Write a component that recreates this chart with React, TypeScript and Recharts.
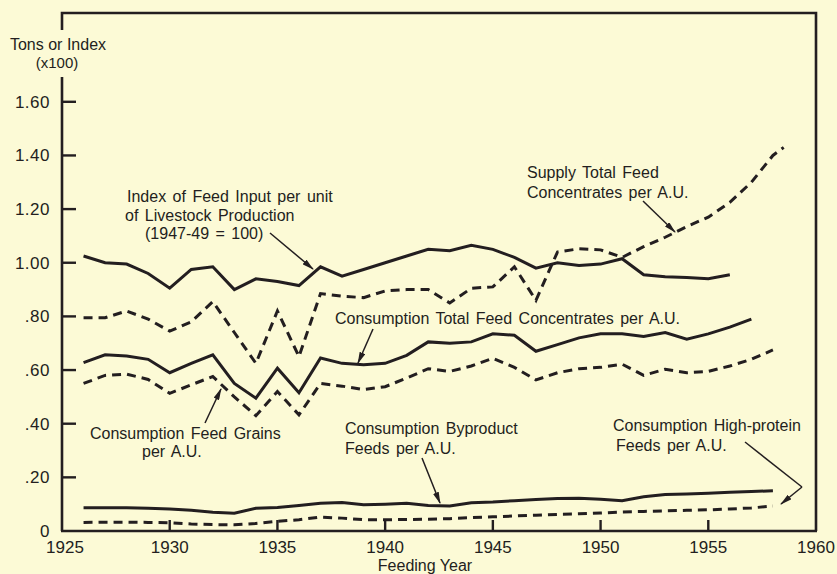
import { LineChart, Line, XAxis, YAxis } from 'recharts';

// feeding years
const years = [
  1926, 1927, 1928, 1929, 1930, 1931, 1932, 1933, 1934, 1935, 1936, 1937, 1938, 1939, 1940, 1941,
  1942, 1943, 1944, 1945, 1946, 1947, 1948, 1949, 1950, 1951, 1952, 1953, 1954, 1955, 1956, 1957, 1958,
];
const supplyYears = [...years.slice(0, 32), 1958, 1958.5];

// index of feed input per unit of livestock production (1947-49 = 100), x100
const feedInputIndex = [
  1.025, 1.0, 0.995, 0.96, 0.905, 0.975, 0.985, 0.9, 0.94, 0.93, 0.915, 0.985, 0.95, 0.975, 1.0, 1.025,
  1.05, 1.045, 1.065, 1.05, 1.02, 0.98, 1.0, 0.99, 0.995, 1.015, 0.955, 0.948, 0.945, 0.94, 0.955,
];
// supply total feed concentrates per A.U.
const supplyConcentrates = [
  0.795, 0.795, 0.82, 0.79, 0.745, 0.78, 0.855, 0.74, 0.625, 0.82, 0.65, 0.885, 0.875, 0.87, 0.895, 0.9,
  0.9, 0.85, 0.905, 0.91, 0.985, 0.86, 1.04, 1.052, 1.048, 1.02, 1.06, 1.095, 1.135, 1.17, 1.225, 1.3,
  1.4, 1.43,
];
// consumption total feed concentrates per A.U.
const consumptionConcentrates = [
  0.628, 0.657, 0.652, 0.64, 0.59, 0.625, 0.657, 0.55, 0.495, 0.607, 0.515, 0.645, 0.625, 0.62, 0.625, 0.655,
  0.705, 0.7, 0.705, 0.735, 0.73, 0.67, 0.695, 0.72, 0.735, 0.735, 0.725, 0.74, 0.715, 0.735, 0.76, 0.79,
];
// consumption feed grains per A.U.
const consumptionGrains = [
  0.55, 0.58, 0.585, 0.565, 0.513, 0.545, 0.576, 0.5, 0.43, 0.52, 0.433, 0.55, 0.54, 0.527, 0.538, 0.57,
  0.605, 0.595, 0.615, 0.644, 0.61, 0.563, 0.59, 0.605, 0.61, 0.622, 0.58, 0.603, 0.59, 0.595, 0.615, 0.64,
  0.675,
];
// consumption byproduct feeds per A.U.
const consumptionByproduct = [
  0.087, 0.087, 0.087, 0.085, 0.082, 0.077, 0.07, 0.066, 0.085, 0.088, 0.095, 0.103, 0.106, 0.098, 0.1, 0.103,
  0.095, 0.093, 0.105, 0.108, 0.113, 0.117, 0.121, 0.122, 0.118, 0.113, 0.128, 0.136, 0.138, 0.141, 0.144,
  0.147, 0.15,
];
// consumption high-protein feeds per A.U.
const consumptionHighProtein = [
  0.032, 0.033, 0.033, 0.032, 0.031, 0.026, 0.024, 0.023, 0.028, 0.036, 0.042, 0.052, 0.048, 0.042, 0.042,
  0.043, 0.044, 0.046, 0.05, 0.053, 0.056, 0.059, 0.062, 0.064, 0.067, 0.071, 0.073, 0.075, 0.077, 0.079,
  0.082, 0.086, 0.093,
];

const xTicks = [1925, 1930, 1935, 1940, 1945, 1950, 1955, 1960];
const yTicks = [0, 0.2, 0.4, 0.6, 0.8, 1.0, 1.2, 1.4, 1.6];
const yLabels = ['0', '.20', '.40', '.60', '.80', '1.00', '1.20', '1.40', '1.60'];

const rows = (xs: number[], vs: number[]) => vs.map((value, i) => ({ year: xs[i], value }));

const W = 837;
const H = 574;
const LEFT = 62;
const RIGHT = 816;
const TOP = 13;
const BOTTOM = 531;

const INK = '#231e20';
const BG = '#fcfad6';
const FONT = '"Liberation Sans", Arial, sans-serif';

const YTick = ({ x, y, payload }: any) => {
  const i = yTicks.indexOf(payload.value);
  return (
    <g>
      {payload.value > 0 && <line x1={x} y1={y} x2={x + 14} y2={y} stroke={INK} strokeWidth={2.4} />}
      <text x={50} y={y + 6} textAnchor="end" fontSize={17} letterSpacing={0.5} fill={INK} fontFamily={FONT}>
        {i >= 0 ? yLabels[i] : payload.value}
      </text>
    </g>
  );
};

const XTick = ({ x, y, payload }: any) => {
  const inner = payload.value > 1925 && payload.value < 1960;
  return (
    <g>
      {inner && <line x1={x} y1={y} x2={x} y2={y - 11} stroke={INK} strokeWidth={2.4} />}
      <text x={x + (payload.value === 1925 ? 3 : 0)} y={y + 22} textAnchor="middle" fontSize={17} fill={INK} fontFamily={FONT}>
        {payload.value}
      </text>
    </g>
  );
};

const Arrow = ({ x1, y1, x2, y2 }: { x1: number; y1: number; x2: number; y2: number }) => (
  <line x1={x1} y1={y1} x2={x2} y2={y2} stroke={INK} strokeWidth={1.5} markerEnd="url(#head)" />
);

const Label = ({ x, y, lines }: { x: number; y: number; lines: string[] }) => (
  <text x={x} y={y} fontSize={16} fill={INK} fontFamily={FONT} wordSpacing={2}>
    {lines.map((t, i) => (
      <tspan key={i} x={x} dy={i === 0 ? 0 : 20}>
        {t}
      </tspan>
    ))}
  </text>
);

const Overlay = () => (
  <svg width={W} height={H} style={{ position: 'absolute', left: 0, top: 0, pointerEvents: 'none' }}>
    <defs>
      <marker id="head" viewBox="0 0 12 6" refX="11" refY="3" markerWidth="12" markerHeight="6" markerUnits="userSpaceOnUse" orient="auto">
        <path d="M0,0 L12,3 L0,6 z" fill={INK} />
      </marker>
    </defs>
    {/* frame */}
    <g stroke={INK} strokeWidth={2.6} fill="none">
      <polyline points={`${LEFT},30 ${LEFT},${TOP} ${RIGHT},${TOP} ${RIGHT},${BOTTOM}`} />
      <line x1={LEFT} y1={77} x2={LEFT} y2={BOTTOM} />
      <line x1={LEFT - 1} y1={BOTTOM} x2={RIGHT + 1} y2={BOTTOM} />
    </g>
    <g fontFamily={FONT} fontSize={16} fill={INK}>
      <text x={58} y={50} textAnchor="middle">Tons or Index</text>
      <text x={57} y={68} textAnchor="middle" fontSize={15}>(x100)</text>
      <text x={425} y={571} textAnchor="middle">Feeding Year</text>
    </g>
    <Label x={127} y={202} lines={['Index of Feed Input per unit']} />
    <Label x={125} y={221} lines={['of Livestock Production']} />
    <Label x={145} y={239} lines={['(1947-49 = 100)']} />
    <Arrow x1={270} y1={233} x2={313} y2={269} />
    <Label x={527} y={178} lines={['Supply Total Feed', 'Concentrates per A.U.']} />
    <Arrow x1={643} y1={201} x2={675} y2={232} />
    <Label x={335} y={324} lines={['Consumption Total Feed Concentrates per A.U.']} />
    <Arrow x1={373} y1={329} x2={358} y2={363} />
    <Label x={90} y={439} lines={['Consumption Feed Grains']} />
    <Label x={142} y={457} lines={['per A.U.']} />
    <Arrow x1={205} y1={423} x2={221} y2={389} />
    <Label x={345} y={434} lines={['Consumption Byproduct', 'Feeds per A.U.']} />
    <Arrow x1={422} y1={458} x2={440} y2={503} />
    <Label x={613} y={431} lines={['Consumption High-protein']} />
    <Label x={616} y={451} lines={['Feeds per A.U.']} />
    <polyline points="745,442 802,487" stroke={INK} strokeWidth={1.5} fill="none" />
    <Arrow x1={802} y1={487} x2={781} y2={504} />
  </svg>
);

export default function App() {
  return (
    <div style={{ position: 'absolute', left: 0, top: 0, width: W, height: H, background: BG }}>
      <LineChart width={W} height={H} margin={{ top: TOP, right: W - RIGHT, left: 0, bottom: 0 }}>
        <XAxis
          type="number"
          dataKey="year"
          domain={[1925, 1960]}
          ticks={xTicks}
          interval={0}
          height={H - BOTTOM}
          axisLine={false}
          tickLine={false}
          tickSize={0}
          tickMargin={0}
          tick={<XTick />}
          allowDataOverflow
        />
        <YAxis
          type="number"
          domain={[0, 1.931]}
          ticks={yTicks}
          interval={0}
          width={LEFT}
          axisLine={false}
          tickLine={false}
          tickSize={0}
          tickMargin={0}
          tick={<YTick />}
          allowDataOverflow
        />
        <Line data={rows(years, feedInputIndex)} dataKey="value" stroke={INK} strokeWidth={3} dot={false} isAnimationActive={false} />
        <Line data={rows(supplyYears, supplyConcentrates)} dataKey="value" stroke={INK} strokeWidth={3} strokeDasharray="9 6" dot={false} isAnimationActive={false} />
        <Line data={rows(years, consumptionConcentrates)} dataKey="value" stroke={INK} strokeWidth={3} dot={false} isAnimationActive={false} />
        <Line data={rows(years, consumptionGrains)} dataKey="value" stroke={INK} strokeWidth={3} strokeDasharray="9 6" dot={false} isAnimationActive={false} />
        <Line data={rows(years, consumptionByproduct)} dataKey="value" stroke={INK} strokeWidth={3} dot={false} isAnimationActive={false} />
        <Line data={rows(years, consumptionHighProtein)} dataKey="value" stroke={INK} strokeWidth={3} strokeDasharray="9 6" dot={false} isAnimationActive={false} />
      </LineChart>
      <Overlay />
    </div>
  );
}
